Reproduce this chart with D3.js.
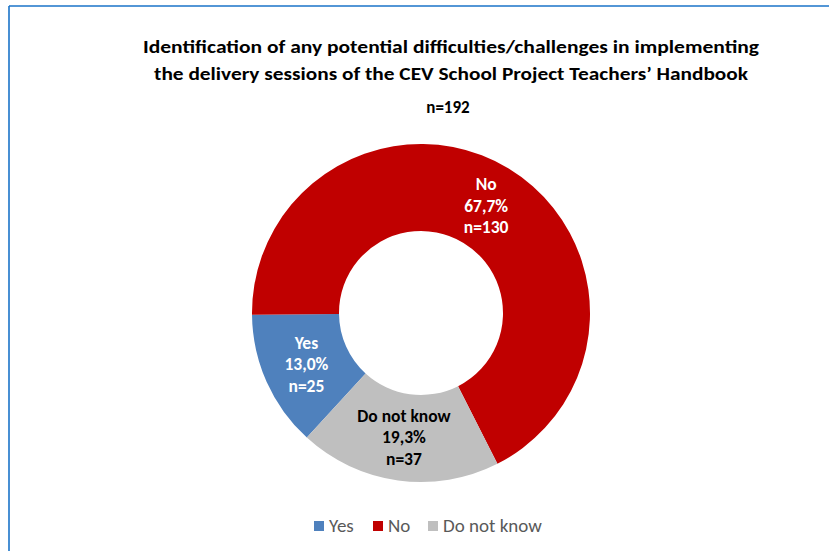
<!DOCTYPE html>
<html>
<head>
<meta charset="utf-8">
<script src="https://cdn.jsdelivr.net/npm/d3@7"></script>
<style>
  html, body { margin: 0; padding: 0; background: #ffffff; }
  svg { display: block; }
  text { font-family: Carlito, Calibri, Lato, "Open Sans", sans-serif; }
</style>
</head>
<body>
<svg id="chart" width="829" height="551"></svg>
<script>
// Survey responses
const categories = ["Yes", "No", "Do not know"];
const counts = [25, 130, 37];
const percentLabels = ["13,0%", "67,7%", "19,3%"];
const colors = ["#4f81bd", "#c00000", "#bfbfbf"];
const labelColors = ["#ffffff", "#ffffff", "#000000"];
const titleLines = [
  "Identification of any potential difficulties/challenges in implementing",
  "the delivery sessions of the CEV School Project Teachers\u2019 Handbook"
];
const subtitle = "n=192";

const svg = d3.select("#chart");
const W = 829, H = 551;

// Frame lines along the top and left edges
svg.append("line").attr("x1", 9).attr("y1", 6).attr("x2", W).attr("y2", 6)
  .attr("stroke", "#1a73c8").attr("stroke-width", 1.6);
svg.append("line").attr("x1", 9).attr("y1", 6).attr("x2", 9).attr("y2", H)
  .attr("stroke", "#1a73c8").attr("stroke-width", 1.6);

// Title
const titleWidths = [616, 594];
titleLines.forEach((t, i) => {
  svg.append("text")
    .attr("x", 451).attr("y", 53 + i * 27)
    .attr("text-anchor", "middle")
    .attr("font-size", 18).attr("font-weight", "bold")
    .attr("fill", "#000")
    .attr("textLength", titleWidths[i]).attr("lengthAdjust", "spacingAndGlyphs")
    .text(t);
});
svg.append("text")
  .attr("x", 448).attr("y", 113)
  .attr("text-anchor", "middle")
  .attr("font-size", 17).attr("font-weight", "bold")
  .attr("fill", "#000")
  .text(subtitle);

// Donut
const cx = 421, cy = 313, rOuter = 169, rInner = 82;
const start = 222.5 * Math.PI / 180;
const pie = d3.pie().sort(null).value(d => d)
  .startAngle(start).endAngle(start + 2 * Math.PI);
const arc = d3.arc().innerRadius(rInner).outerRadius(rOuter);
const arcs = pie(counts);

const g = svg.append("g").attr("transform", `translate(${cx},${cy})`);
g.selectAll("path").data(arcs).join("path")
  .attr("d", arc)
  .attr("fill", (d, i) => colors[i]);

// Slice labels: category, percent, count
arcs.forEach((d, i) => {
  const [lx, ly] = arc.centroid(d);
  const lines = [categories[i], percentLabels[i], "n=" + counts[i]];
  const t = g.append("text")
    .attr("text-anchor", "middle")
    .attr("font-size", 17.5).attr("font-weight", "bold")
    .attr("fill", labelColors[i]);
  lines.forEach((s, j) => {
    t.append("tspan").attr("x", lx).attr("y", ly + (j - 1) * 21.5 + 6).text(s);
  });
});

// Legend
const legendX = [314, 373, 428];
const legend = svg.append("g");
categories.forEach((c, i) => {
  legend.append("rect")
    .attr("x", legendX[i]).attr("y", 521).attr("width", 10).attr("height", 10)
    .attr("fill", colors[i]);
  legend.append("text")
    .attr("x", legendX[i] + 15).attr("y", 532)
    .attr("font-size", 19).attr("fill", "#595959")
    .text(c);
});
</script>
</body>
</html>
